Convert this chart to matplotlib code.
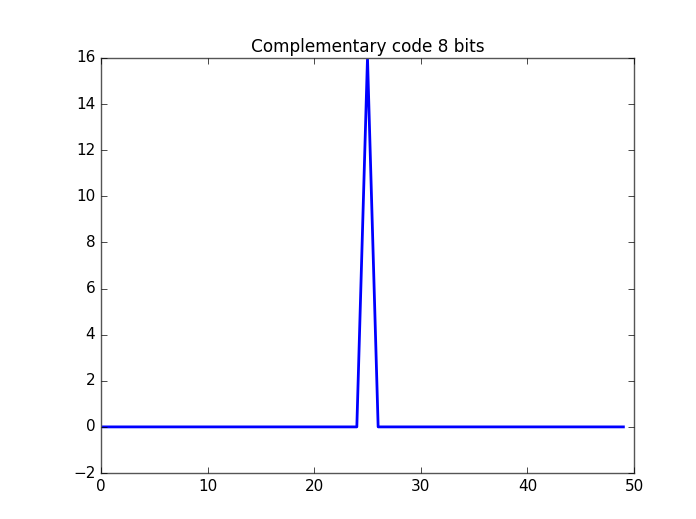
import numpy as np
from matplotlib import pyplot as plt

plt.style.use('classic')

# correlation sum of an 8-bit complementary pair
n_points = 50
peak_lag = 25
peak_value = 16
lags = np.arange(n_points)
corr = np.zeros(n_points)
corr[peak_lag] = peak_value

fig = plt.figure(figsize=[6.96, 5.19], dpi=100, facecolor='white')
ax = fig.add_axes([0.145, 0.0886, 0.766, 0.7998])

ax.plot(lags, corr, color='b', lw=2)
ax.set_xlim(0, 50)
ax.set_ylim(-2, 16)
ax.set_yticks(np.arange(-2, 17, 2))
ax.set_title("Complementary code 8 bits", fontsize=12.2, pad=4)
ax.tick_params(labelsize=11)
for s in ax.spines.values():
    s.set_color('#555555')

fig.savefig('out.png', dpi=100, facecolor='white')
